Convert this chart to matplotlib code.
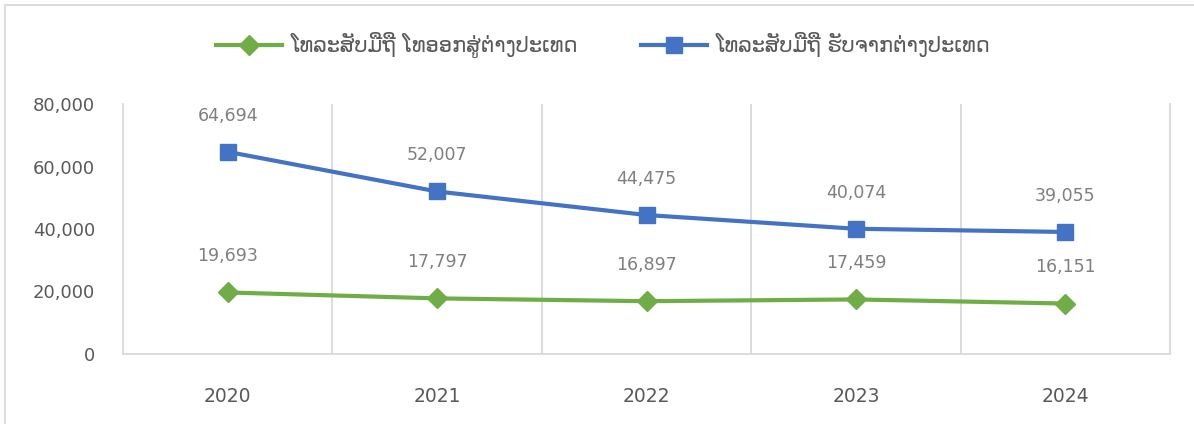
import matplotlib
matplotlib.use("Agg")
import matplotlib.pyplot as plt
from matplotlib.patches import Rectangle
from matplotlib.ticker import FuncFormatter

years = ["2020", "2021", "2022", "2023", "2024"]
calls_out = [19693, 17797, 16897, 17459, 16151]
calls_in = [64694, 52007, 44475, 40074, 39055]
label_out = "ໂທລະສັບມືຖື ໂທອອກສູ່ຕ່າງປະເທດ"
label_in = "ໂທລະສັບມືຖື ຮັບຈາກຕ່າງປະເທດ"

green = "#70AD47"
blue = "#4472C4"
grid_col = "#D9D9D9"
tick_col = "#595959"
lbl_col = "#7F7F7F"

plt.rcParams["font.family"] = ["DejaVu Sans", "Noto Sans"]

fig = plt.figure(figsize=(11.94, 4.24), dpi=100)
ax = fig.add_axes([123 / 1194, 1 - 354 / 424, (1170 - 123) / 1194, (354 - 104) / 424])

x = list(range(len(years)))
ax.plot(x, calls_out, color=green, lw=3, marker="D", ms=10, label=label_out, zorder=3)
ax.plot(x, calls_in, color=blue, lw=3, marker="s", ms=11.5, label=label_in, zorder=3)

for xi, v in zip(x, calls_out):
    ax.annotate(f"{v:,}", (xi, v), xytext=(0, 26), textcoords="offset points",
                ha="center", va="center", fontsize=12.5, color=lbl_col)
for xi, v in zip(x, calls_in):
    ax.annotate(f"{v:,}", (xi, v), xytext=(0, 26), textcoords="offset points",
                ha="center", va="center", fontsize=12.5, color=lbl_col)

ax.set_xlim(-0.5, len(years) - 0.5)
ax.set_ylim(0, 80000)
ax.set_yticks([0, 20000, 40000, 60000, 80000])
ax.yaxis.set_major_formatter(FuncFormatter(lambda v, p: f"{int(v):,}"))
ax.set_xticks(x)
ax.set_xticklabels(years)
ax.set_xticks([i + 0.5 for i in x[:-1]], minor=True)
ax.grid(axis="x", which="minor", color=grid_col, lw=1.3)
ax.tick_params(axis="x", which="both", length=0)
ax.tick_params(axis="y", length=0, pad=20, labelsize=13, labelcolor=tick_col)
ax.tick_params(axis="x", which="major", pad=24, labelsize=13.5, labelcolor=tick_col)

for s in ["left", "right", "bottom"]:
    ax.spines[s].set_color(grid_col)
    ax.spines[s].set_linewidth(1.3)
ax.spines["top"].set_visible(False)

leg = fig.legend(loc="center", bbox_to_anchor=(0.505, 1 - 45 / 424), ncol=2, frameon=False,
                 fontsize=15, handlelength=3.2, columnspacing=3.0, handletextpad=0.4)
for t in leg.get_texts():
    t.set_color(tick_col)

# light frame around the chart area (right and bottom edges are cut off)
fig.patches.append(Rectangle((5 / 1194, -0.5), 2.0, 1.5 - 5 / 424, transform=fig.transFigure,
                             fill=False, edgecolor=grid_col, lw=1.3))

fig.savefig("out.png", dpi=100)
